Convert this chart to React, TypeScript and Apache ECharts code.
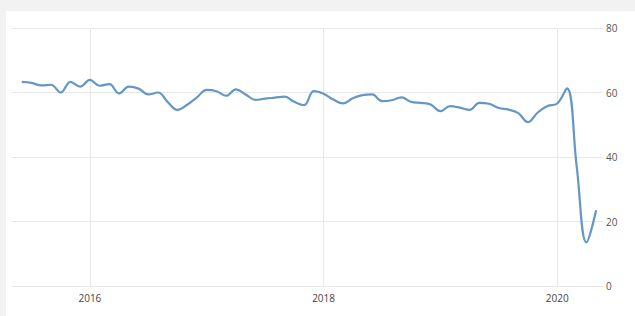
import React, { useEffect, useRef } from "react";
import * as echarts from "echarts";

const startYear = 2015;
const startMonth = 6; // June 2015
const values: number[] = [
  // 2015 Jun-Dec
  63.3, 63.0, 62.2, 62.4, 60.0, 63.3, 61.8,
  // 2016
  63.9, 62.1, 62.6, 59.7, 61.8, 61.2, 59.4, 60.0, 57.0, 54.6, 56.2, 58.5,
  // 2017
  60.8, 60.4, 59.0, 61.0, 59.4, 57.7, 58.1, 58.4, 58.7, 57.1, 56.1, 60.4,
  // 2018
  59.6, 57.8, 56.6, 58.2, 59.2, 59.4, 57.3, 57.6, 58.5, 57.1, 56.8, 56.3,
  // 2019
  54.2, 55.8, 55.3, 54.6, 56.8, 56.5, 55.2, 54.7, 53.6, 50.8, 53.8, 55.8,
  // 2020 Jan-May
  56.6, 61.3, 37.0, 13.5, 23.5,
];
const yearTicks = [2016, 2018, 2020];
const yTicks = [0, 20, 40, 60, 80];

// month offset relative to January 2016
const baseYear = 2016;
const points = values.map((v, i) => {
  const m = (startYear - baseYear) * 12 + (startMonth - 1) + i;
  return [m, v];
});
const tickPositions = yearTicks.map((y) => (y - baseYear) * 12);

export default function App() {
  const ref = useRef<HTMLDivElement>(null);
  useEffect(() => {
    document.body.style.margin = "0";
    const chart = echarts.init(ref.current!, null, { renderer: "svg" });
    chart.setOption({
      animation: false,
      backgroundColor: "#ffffff",
      grid: { left: 6, right: 32, top: 17, bottom: 30 },
      xAxis: {
        type: "value",
        min: -8,
        max: 52.7,
        axisLine: { show: false },
        axisTick: { show: false, customValues: tickPositions },
        axisLabel: {
          customValues: tickPositions,
          formatter: (v: number) => String(baseYear + Math.round(v / 12)),
          color: "#444",
          fontSize: 10,
          fontFamily: "Open Sans",
          margin: 7,
        },
        splitLine: { show: true, lineStyle: { color: "#e8e8e8", width: 1 } },
      },
      yAxis: {
        type: "value",
        position: "right",
        min: 0,
        max: 80,
        interval: 20,
        axisLine: { show: false },
        axisTick: { show: false },
        axisLabel: {
          color: "#555",
          fontSize: 10,
          fontFamily: "Open Sans",
          margin: 3,
          formatter: (v: number) => (yTicks.includes(v) ? String(v) : ""),
        },
        splitLine: { show: true, lineStyle: { color: "#e8e8e8", width: 1 } },
      },
      series: [
        {
          type: "line",
          data: points,
          smooth: 0.4,
          symbol: "none",
          lineStyle: { color: "#6496c6", width: 2.2 },
        },
      ],
    });
    return () => chart.dispose();
  }, []);
  return (
    <div style={{ position: "relative", width: 635, height: 316, background: "#f2f2f2" }}>
      <div
        ref={ref}
        style={{ position: "absolute", left: 6, top: 11, width: 629, height: 305 }}
      />
    </div>
  );
}
